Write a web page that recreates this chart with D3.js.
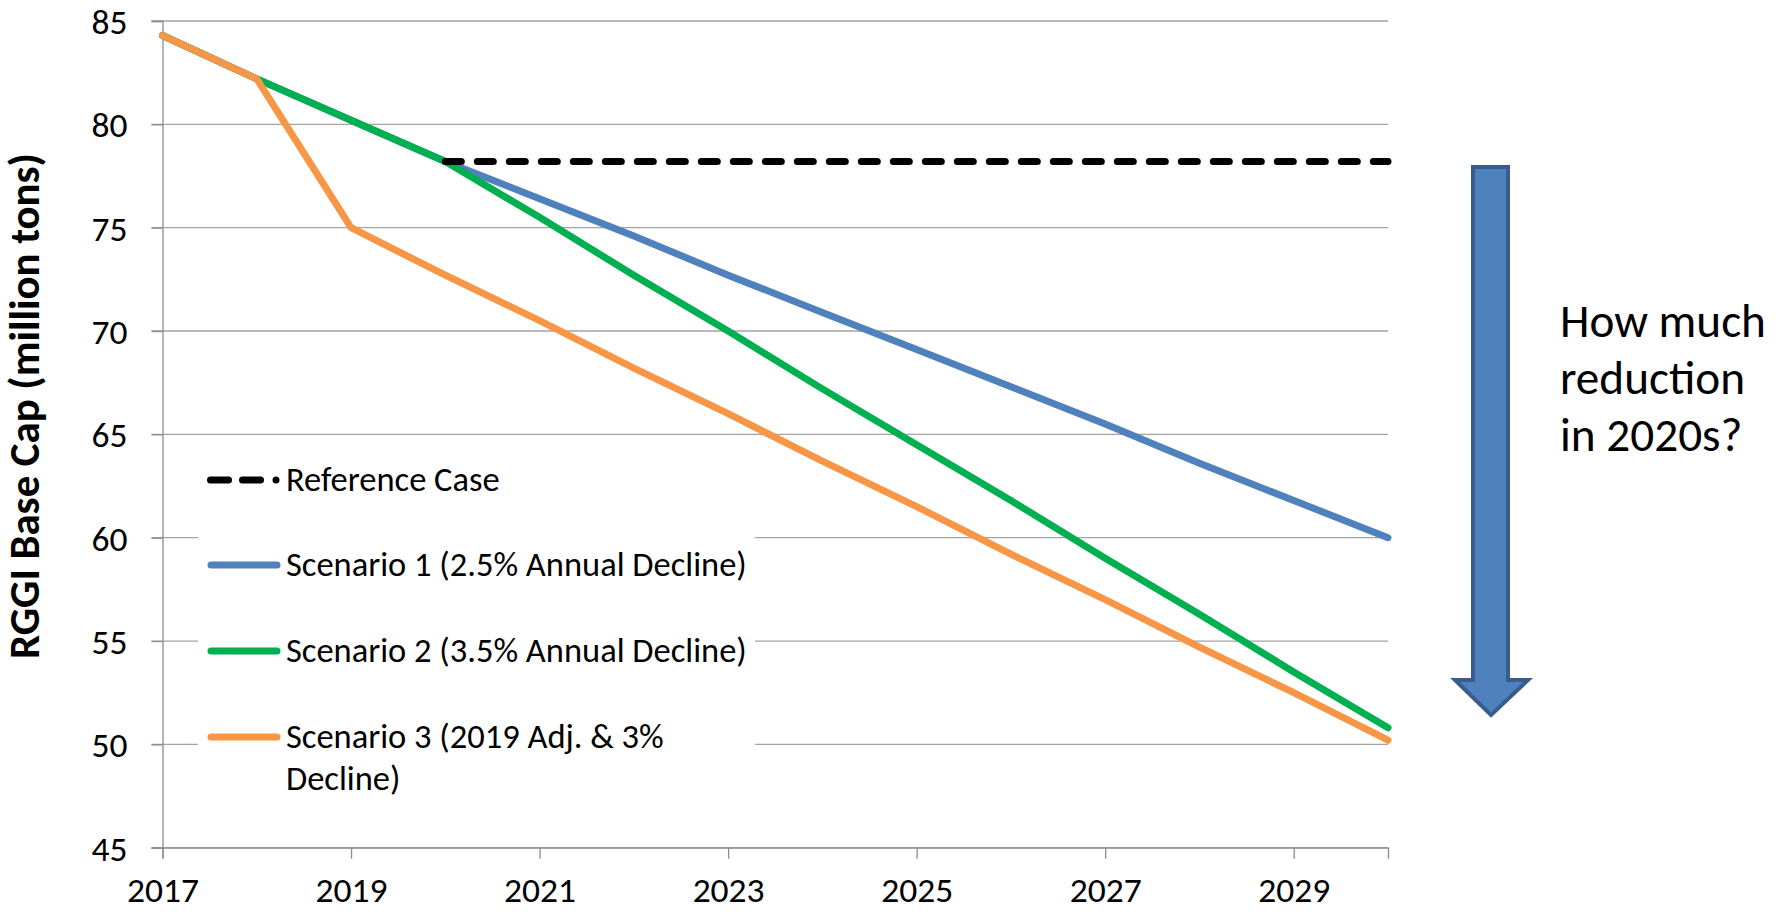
<!DOCTYPE html>
<html><head><meta charset="utf-8">
<script src="https://cdn.jsdelivr.net/npm/d3@7"></script>
<style>
html,body{margin:0;padding:0;background:#fff;}
svg text{font-family:Carlito,"Open Sans","Noto Sans",sans-serif;fill:#000;}
</style></head>
<body>
<svg id="chart" width="1781" height="912"></svg>
<script>
const years = [2017,2018,2019,2020,2021,2022,2023,2024,2025,2026,2027,2028,2029,2030];
const refYears = [2020,2030];
const refValues = [78.2,78.2];
const scenario1 = [84.3,82.2,80.2,78.2,76.4,74.6,72.7,70.9,69.1,67.3,65.5,63.6,61.8,60.0];
const scenario2 = [84.3,82.2,80.2,78.2,75.5,72.7,70.0,67.2,64.5,61.8,59.0,56.3,53.5,50.8];
const scenario3 = [84.3,82.2,75.0,72.7,70.5,68.2,66.0,63.7,61.5,59.2,57.0,54.7,52.5,50.2];
const yTicks = [45,50,55,60,65,70,75,80,85];
const xTicks = [2017,2019,2021,2023,2025,2027,2029];
const legendLabels = ["Reference Case","Scenario 1 (2.5% Annual Decline)","Scenario 2 (3.5% Annual Decline)","Scenario 3 (2019 Adj. & 3%","Decline)"];
const yTitle = "RGGI Base Cap (million tons)";
const noteLines = ["How much","reduction","in 2020s?"];

const svg = d3.select("#chart");
const L=162.5, R=1388, T=21, B=847.7;
const x = d3.scaleLinear().domain([2017,2030]).range([L,R]);
const y = d3.scaleLinear().domain([45,85]).range([B,T]);

function fit(sel, target){
  const node = sel.node();
  const fs = parseFloat(sel.attr("font-size"));
  const w = node.getComputedTextLength();
  const nfs = fs*target/w;
  sel.attr("font-size", nfs);
  return nfs;
}

// gridlines
const grid = svg.append("g");
grid.selectAll("line").data(yTicks).join("line")
  .attr("x1", L-11).attr("x2", R)
  .attr("y1", d=>y(d)).attr("y2", d=>y(d))
  .attr("stroke","#a3a3a3").attr("stroke-width",1.3);

// y axis
const yAxis = svg.append("g").attr("transform",`translate(${L},0)`)
  .call(d3.axisLeft(y).tickValues(yTicks).tickSize(11).tickPadding(24).tickFormat(d3.format("d")));
yAxis.select(".domain").attr("stroke","#8c8c8c").attr("stroke-width",1.3);
yAxis.selectAll(".tick line").attr("stroke","#8c8c8c").attr("stroke-width",1.3);
yAxis.selectAll("text").attr("font-size",32).attr("font-family",null).attr("dy","0.35em");

// x axis
const xAxis = svg.append("g").attr("transform",`translate(0,${B})`)
  .call(d3.axisBottom(x).tickValues(xTicks).tickSize(11).tickPadding(18).tickFormat(d3.format("d")));
xAxis.select(".domain").attr("stroke","#8c8c8c").attr("stroke-width",1.3);
xAxis.selectAll(".tick line").attr("stroke","#8c8c8c").attr("stroke-width",1.3);
xAxis.selectAll("text").attr("font-size",32).attr("font-family",null).attr("dy","0.71em");
{
  const t = xAxis.select(".tick text");
  const nfs = fit(t, 72);
  xAxis.selectAll("text").attr("font-size", nfs);
  yAxis.selectAll("text").attr("font-size", nfs);
}

// lines
const line = d3.line().x((d,i)=>x(years[i])).y(d=>y(d));
const series = [
  {vals:scenario1,color:"#4f81bd"},
  {vals:scenario2,color:"#00b050"},
  {vals:scenario3,color:"#f79646"}
];
series.forEach(s=>{
  svg.append("path").attr("d",line(s.vals)).attr("fill","none")
    .attr("stroke",s.color).attr("stroke-width",7)
    .attr("stroke-linecap","round").attr("stroke-linejoin","round");
});
const refLine = d3.line().x((d,i)=>x(refYears[i])).y(d=>y(d));
svg.append("path").attr("d",refLine(refValues)).attr("fill","none")
  .attr("stroke","#000").attr("stroke-width",7).attr("stroke-linecap","round")
  .attr("stroke-dasharray","16,16");

// legend
const lg = svg.append("g");
lg.append("rect").attr("x",198).attr("y",447).attr("width",557).attr("height",352).attr("fill","#fff");
const items = [
  {ly:480, color:"#000", dash:true},
  {ly:565, color:"#4f81bd"},
  {ly:651, color:"#00b050"},
  {ly:737, color:"#f79646"}
];
items.forEach((it,i)=>{
  if (it.dash) {
    lg.append("path").attr("d",`M210.5,${it.ly}h18M242.5,${it.ly}h18M276,${it.ly}h0.01`)
      .attr("fill","none").attr("stroke",it.color).attr("stroke-width",7).attr("stroke-linecap","round");
  } else {
    lg.append("line").attr("x1",211).attr("x2",277).attr("y1",it.ly).attr("y2",it.ly)
      .attr("stroke",it.color).attr("stroke-width",7).attr("stroke-linecap","round");
  }
});
const lt = lg.selectAll("text.lt").data(legendLabels).join("text").attr("class","lt")
  .attr("x",286).attr("y",(d,i)=>[491,576,662,748,790][i]).attr("font-size",30).text(d=>d);
{
  const nfs = fit(lt.filter((d,i)=>i===1), 461);
  lt.attr("font-size", nfs);
}

// y title
const yt = svg.append("text").attr("transform","translate(39,406) rotate(-90)")
  .attr("text-anchor","middle").attr("font-weight","bold").attr("font-size",28).text(yTitle);
fit(yt, 506);

// arrow
svg.append("path")
  .attr("d","M1473,167 L1508,167 L1508,680 L1528,680 L1491,715 L1455,680 L1473,680 Z")
  .attr("fill","#4f81bd").attr("stroke","#385d8a").attr("stroke-width",4).attr("stroke-linejoin","miter");

// note
const nt = svg.selectAll("text.note").data(noteLines).join("text").attr("class","note")
  .attr("x",1560).attr("y",(d,i)=>337+i*57).attr("font-size",40).text(d=>d);
{
  const nfs = fit(nt.filter((d,i)=>i===0), 206);
  nt.attr("font-size", nfs);
}
</script>
</body></html>
